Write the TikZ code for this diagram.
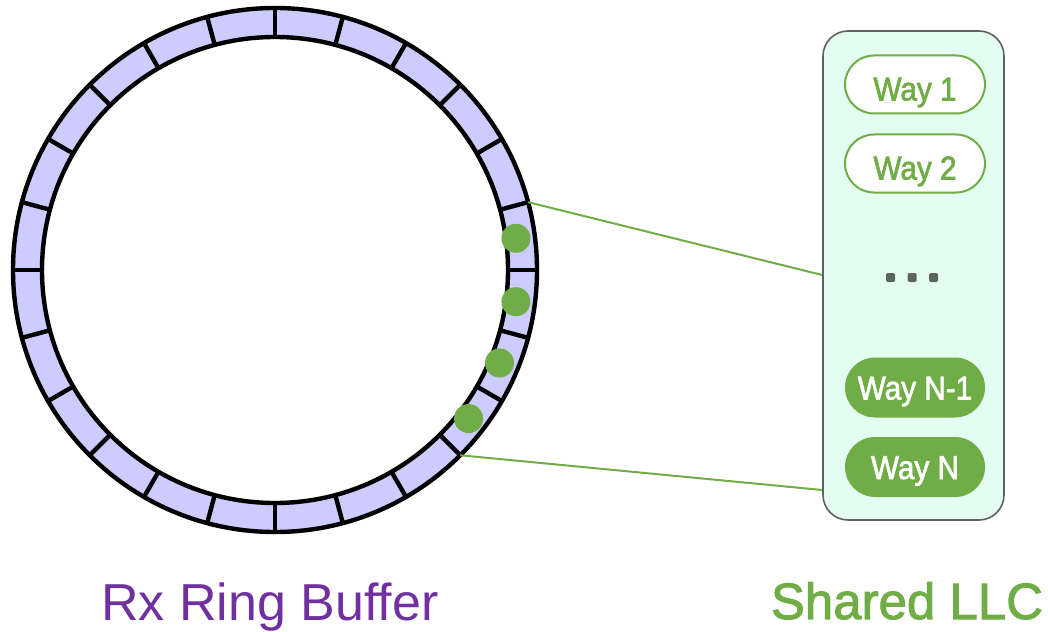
\documentclass[tikz,border=0pt]{standalone}
\usepackage{fontspec}
\setmainfont{Liberation Sans}
\newfontfamily\medfont{Liberation Sans}[FakeBold=2]
\newfontfamily\wayfont{Liberation Sans}[FakeBold=2,FakeStretch=0.9]
\usetikzlibrary{calc}

\definecolor{ringfill}{HTML}{CCCCFF}
\definecolor{waygreen}{HTML}{70AD47}
\definecolor{llcfill}{HTML}{E3FDF0}
\definecolor{boxgray}{HTML}{606060}
\definecolor{dotgray}{HTML}{5F6360}
\definecolor{labelpurple}{HTML}{7030A0}

\begin{document}
\begin{tikzpicture}[x=1pt,y=-1pt,
  ringline/.style={line width=4.4pt,black},
  slotdot/.style={circle,fill=waygreen,minimum size=29pt,inner sep=0pt},
  linkline/.style={line width=2pt,waygreen},
  llcbox/.style={draw=boxgray,line width=1.6pt,fill=llcfill,rounded corners=25pt,
                 minimum width=181pt,minimum height=489pt,inner sep=0pt},
  waypill/.style={rounded corners=29pt,minimum width=140pt,minimum height=58pt,
                  inner sep=0pt,font=\wayfont\fontsize{33pt}{33pt}\selectfont},
  wayopen/.style={waypill,draw=waygreen,line width=2pt,fill=white,text=waygreen,
                  text height=32pt,text depth=0pt},
  wayfull/.style={waypill,fill=waygreen,text=white,minimum height=60pt,rounded corners=30pt,
                  text height=24pt,text depth=0pt},
  ellipsisdot/.style={fill=dotgray,rounded corners=1.5pt,minimum size=9pt,inner sep=0pt},
  biglabel/.style={anchor=base,font=\fontsize{52pt}{52pt}\selectfont}
]
\useasboundingbox (0,0) rectangle (1048,631);

% ring buffer: 24 slots between two circles
\coordinate (rc) at (275,270);
\fill[ringfill,even odd rule] (rc) circle[radius=262pt] (rc) circle[radius=233pt];
\foreach \a in {0,15,...,345}
  \draw[ringline] ($(rc)+(\a:233)$) -- ($(rc)+(\a:262)$);
\draw[ringline] (rc) circle[radius=262pt];
\draw[ringline] (rc) circle[radius=233pt];

% occupied slots
\node[slotdot] (slotA) at ($(rc)+(-7.5:243)$) {};
\node[slotdot] (slotB) at ($(rc)+(7.5:243)$) {};
\node[slotdot] (slotC) at ($(rc)+(22.5:243)$) {};
\node[slotdot] (slotD) at ($(rc)+(37.5:244)$) {};

% shared last-level cache with its ways
\node[llcbox] (llc) at (913.5,275.5) {};
\node[wayopen] (way1) at (915,84.5) {Way 1};
\node[wayopen] (way2) at (915,163.5) {Way 2};
\node[ellipsisdot] (dotA) at (890.5,277.5) {};
\node[ellipsisdot] (dotB) at (912,277.5) {};
\node[ellipsisdot] (dotC) at (933.5,277.5) {};
\node[wayfull] (wayN1) at (915,387.5) {Way N-1};
\node[wayfull] (wayN) at (915,467) {Way N};

% mapping of the ring section onto the cache
\coordinate (tapTop) at ($(rc)+(-15:262)$);
\coordinate (tapBot) at ($(rc)+(45:262)$);
\coordinate (llcTop) at (llc.west |- 0,275);
\coordinate (llcBot) at (llc.west |- 0,490);
\draw[linkline] (tapTop) -- (llcTop);
\draw[linkline] (tapBot) -- (llcBot);

% captions
\node[biglabel,text=labelpurple] (ringcap) at (270,620) {Rx Ring Buffer};
\node[biglabel,text=waygreen,font=\medfont\fontsize{51pt}{51pt}\selectfont] (llccap) at (907,619) {Shared LLC};
\end{tikzpicture}
\end{document}
